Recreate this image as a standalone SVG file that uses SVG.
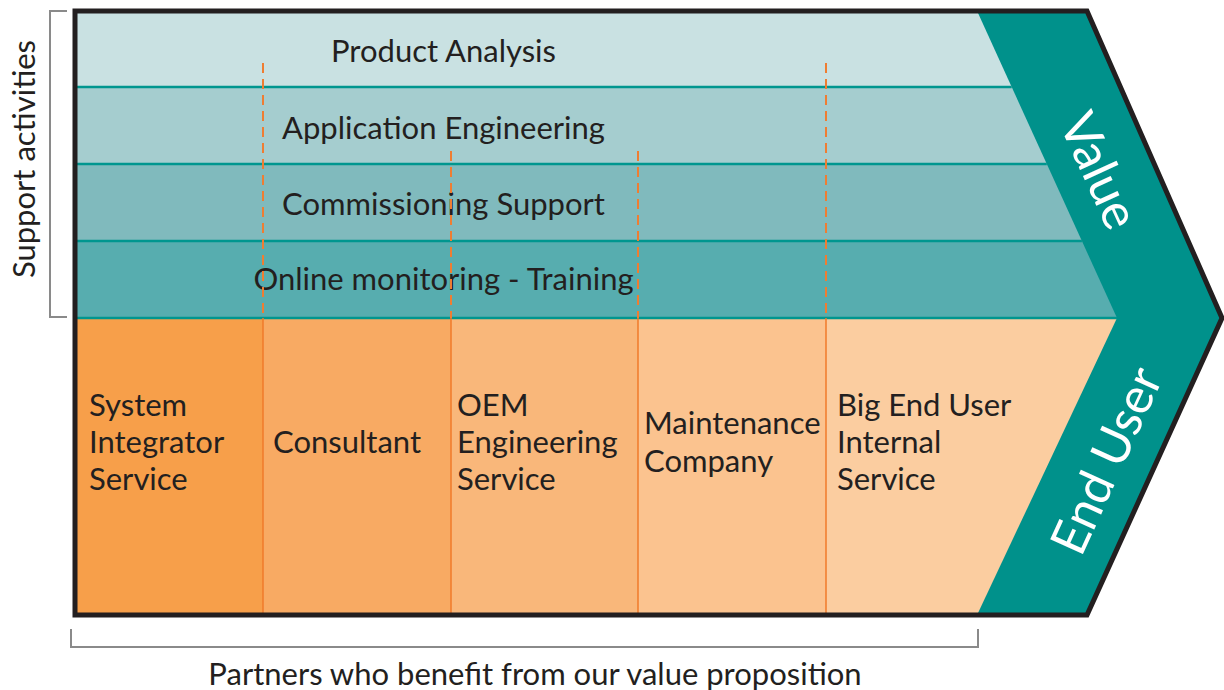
<svg xmlns="http://www.w3.org/2000/svg" width="1224" height="690" viewBox="0 0 1224 690">
<style>
.t{font-family:Lato,"Noto Sans",sans-serif;fill:#231f20}
.b{font-size:31px}
.c{font-size:31px}
.w{font-family:Lato,"Noto Sans",sans-serif;fill:#ffffff;font-size:50px}
.sep{stroke:#00968f;stroke-width:2.5}
.osep{stroke:#f07a2a;stroke-width:1.5}
.dash{stroke:#ef7d32;stroke-width:2;stroke-dasharray:10 6;fill:none}
.br{stroke:#8a8a8a;stroke-width:2;fill:none}
</style>
<g id="chevron">
<path d="M75,11 L1087,11 L1222,318 L1087,615 L75,615 Z" fill="#00918b"/>
</g>
<g id="band-product-analysis">
<polygon points="75,13 978,13 1011.7,87 75,87" fill="#c9e1e2"/>
<text class="t b" x="443.5" y="62" text-anchor="middle">Product Analysis</text>
</g>
<g id="band-application-engineering">
<polygon points="75,87 1011.7,87 1046.8,164 75,164" fill="#a5cdcf"/>
<text class="t b" x="443.5" y="139" text-anchor="middle">Application Engineering</text>
</g>
<g id="band-commissioning-support">
<polygon points="75,164 1046.8,164 1081.9,241 75,241" fill="#80babd"/>
<text class="t b" x="443.5" y="215" text-anchor="middle">Commissioning Support</text>
</g>
<g id="band-online-monitoring">
<polygon points="75,241 1081.9,241 1117,318 75,318" fill="#57adaf"/>
<text class="t b" x="443.5" y="290" text-anchor="middle">Online monitoring - Training</text>
</g>
<g id="col-system-integrator">
<rect x="75" y="318" width="188" height="295" fill="#f79f4a"/>
<text class="t c" x="89" y="416">System</text>
<text class="t c" x="89" y="453">Integrator</text>
<text class="t c" x="89" y="490">Service</text>
</g>
<g id="col-consultant">
<rect x="263" y="318" width="188" height="295" fill="#f8aa63"/>
<text class="t c" x="273" y="453">Consultant</text>
</g>
<g id="col-oem">
<rect x="451" y="318" width="187" height="295" fill="#f9b77a"/>
<text class="t c" x="457" y="416">OEM</text>
<text class="t c" x="457" y="453">Engineering</text>
<text class="t c" x="457" y="490">Service</text>
</g>
<g id="col-maintenance">
<rect x="638" y="318" width="188" height="295" fill="#fbc38f"/>
<text class="t c" x="644" y="434">Maintenance</text>
<text class="t c" x="644" y="472">Company</text>
</g>
<g id="col-big-end-user">
<polygon points="826,318 1117,318 978,613 826,613" fill="#fbcda0"/>
<text class="t c" x="837" y="416">Big End User</text>
<text class="t c" x="837" y="453">Internal</text>
<text class="t c" x="837" y="490">Service</text>
</g>
<g id="connectors">
<line class="sep" x1="75" y1="87" x2="1011.7" y2="87"/>
<line class="sep" x1="75" y1="164" x2="1046.8" y2="164"/>
<line class="sep" x1="75" y1="241" x2="1081.9" y2="241"/>
<line class="sep" x1="75" y1="318" x2="1117" y2="318" stroke-width="1.5"/>
<line class="osep" x1="263" y1="318" x2="263" y2="613"/>
<line class="osep" x1="451" y1="318" x2="451" y2="613"/>
<line class="osep" x1="638" y1="318" x2="638" y2="613"/>
<line class="osep" x1="826" y1="318" x2="826" y2="613"/>
<line class="dash" x1="263" y1="63" x2="263" y2="318"/>
<line class="dash" x1="826" y1="63" x2="826" y2="318"/>
<line class="dash" x1="451" y1="151" x2="451" y2="318"/>
<line class="dash" x1="638" y1="151" x2="638" y2="318"/>
</g>
<g id="value-label">
<text class="w" transform="translate(1101,170) rotate(65.5)" text-anchor="middle" dominant-baseline="central">Value</text>
</g>
<g id="end-user-label">
<text class="w" transform="translate(1105,460) rotate(-65.5)" text-anchor="middle" dominant-baseline="central">End User</text>
</g>
<g id="border">
<path d="M75,11 L1087,11 L1222,318 L1087,615 L75,615 Z" fill="none" stroke="#231f20" stroke-width="5" stroke-linejoin="miter"/>
</g>
<g id="support-bracket">
<path class="br" d="M67,11 L50,11 L50,317 L67,317"/>
<text class="t" font-size="31" transform="translate(35,159) rotate(-90)" text-anchor="middle">Support activities</text>
</g>
<g id="partners-bracket">
<path class="br" d="M71,629 L71,647 L978,647 L978,629"/>
<text class="t" font-size="31" x="535" y="685" text-anchor="middle">Partners who benefit from our value proposition</text>
</g>
</svg>
